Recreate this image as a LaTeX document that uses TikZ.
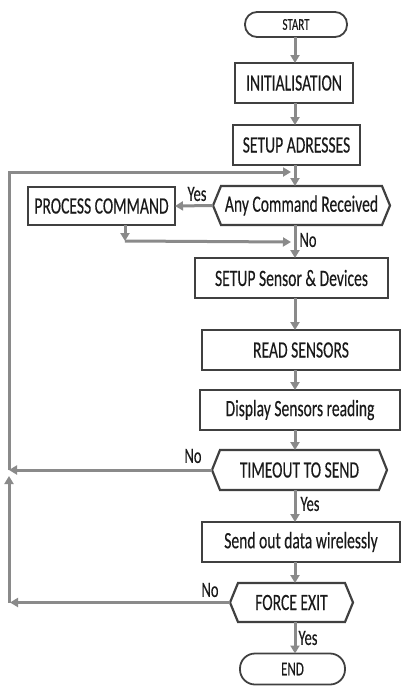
\documentclass[tikz,border=0pt]{standalone}
\usepackage{fontspec}
\setmainfont{Carlito}[FakeBold=0.4]
\usepackage{graphicx}
\usetikzlibrary{arrows.meta,calc}
\definecolor{boxc}{HTML}{404040}
\definecolor{arrc}{HTML}{8A8A8A}
\definecolor{txtc}{HTML}{1A1A1A}
\newcommand\vtxt[1]{\scalebox{1}[1.5]{#1}}
\newcommand\hexdraw[1]{\draw[hexline] ([xshift=8pt]#1.north west) -- ([xshift=-8pt]#1.north east)
      -- (#1.east) -- ([xshift=-8pt]#1.south east)
      -- ([xshift=8pt]#1.south west) -- (#1.west) -- cycle;}
\tikzset{
  base/.style={outer sep=0pt, inner sep=0pt, text=txtc,
    font=\fontsize{15.6}{18}\selectfont},
  procbox/.style={base, draw=boxc, line width=2.2pt, rectangle},
  termbox/.style={base, draw=boxc, line width=1.8pt, rectangle, rounded corners=12pt},
  hexa/.style={base, draw=none, rectangle},
  hexline/.style={draw=boxc, line width=2.2pt, line join=miter},
  lbl/.style={text=txtc, inner sep=0pt, font=\fontsize{14.5}{16}\selectfont},
  arr/.style={draw=arrc, line width=3pt, -{Triangle[length=8pt,width=9pt]}}
}
\begin{document}
\begin{tikzpicture}[x=1pt,y=-1pt]
\useasboundingbox (0,0) rectangle (401,686);
% nodes
\node[termbox, minimum width=102pt, minimum height=25pt, font=\fontsize{11}{13}\selectfont] (start) at (296,24.5) {\vtxt{START}};
\node[procbox, minimum width=118pt, minimum height=40pt] (init) at (294,83) {\vtxt{INITIALISATION}};
\node[procbox, minimum width=127pt, minimum height=40pt] (addr) at (296.5,145) {\vtxt{SETUP ADRESSES}};
\node[hexa, minimum width=177pt, minimum height=39pt] (anycmd) at (301.5,205.5) {\vtxt{Any Command Received}};
\node[procbox, minimum width=147pt, minimum height=38pt] (proc) at (101.5,206) {\vtxt{PROCESS COMMAND}};
\node[procbox, minimum width=193pt, minimum height=40pt] (setup) at (291.5,278) {\vtxt{SETUP Sensor \& Devices}};
\node[procbox, minimum width=198pt, minimum height=40pt] (read) at (301,350) {\vtxt{READ SENSORS}};
\node[procbox, minimum width=200pt, minimum height=40pt] (disp) at (300,410) {\vtxt{Display Sensors reading}};
\node[hexa, minimum width=175pt, minimum height=40pt] (timeout) at (299.5,470) {\vtxt{TIMEOUT TO SEND}};
\node[procbox, minimum width=198pt, minimum height=40pt] (send) at (301,542) {\vtxt{Send out data wirelessly}};
\node[hexa, minimum width=123pt, minimum height=39pt] (force) at (291.5,602.5) {\vtxt{FORCE EXIT}};
\node[termbox, minimum width=105pt, minimum height=31pt, rounded corners=15pt, font=\fontsize{13}{15}\selectfont] (end) at (292.5,669) {\vtxt{END}};
\hexdraw{anycmd}
\hexdraw{timeout}
\hexdraw{force}
% labels
\node[lbl] (yes1) at (197,194) {\vtxt{Yes}};
\node[lbl] (no1) at (308,240) {\vtxt{No}};
\node[lbl] (no2) at (193,456) {\vtxt{No}};
\node[lbl] (yes2) at (310,504) {\vtxt{Yes}};
\node[lbl] (no3) at (210,590) {\vtxt{No}};
\node[lbl] (yes3) at (308,638) {\vtxt{Yes}};
% helper coordinates
\coordinate (sp) at (295,0);
\coordinate (L) at (9,0);
\coordinate (topjoin) at (291,172);
\coordinate (botjoin) at (291,242);
\coordinate (pcb) at (125,241);
\coordinate (upend) at (9,476);
% spine
\draw[arr] (start.south -| sp) -- (init.north -| sp);
\draw[arr] (init.south -| sp) -- (addr.north -| sp);
\draw[arr] (addr.south -| sp) -- (anycmd.north -| sp);
\draw[arr] (anycmd.south -| sp) -- (setup.north -| sp);
\draw[arr] (setup.south -| sp) -- (read.north -| sp);
\draw[arr] (read.south -| sp) -- (disp.north -| sp);
\draw[arr] (disp.south -| sp) -- (timeout.north -| sp);
\draw[arr] (timeout.south -| sp) -- (send.north -| sp);
\draw[arr] (send.south -| sp) -- (force.north -| sp);
\draw[arr] (force.south -| sp) -- (end.north -| sp);
% yes branch to process command
\draw[arr] (anycmd.west) -- (proc.east);
\draw[arr] (proc.south -| pcb) -- (pcb);
\draw[arr] (pcb) -- (botjoin);
% loops
\draw[arr] (timeout.west) -- (timeout.west -| L);
\draw[arr] (force.west) -- ([xshift=1pt]force.west -| L);
\draw[arr] (force.west -| L) -- (upend);
\draw[arr] (timeout.west -| L) -- (L |- topjoin) -- (topjoin);
\end{tikzpicture}
\end{document}
